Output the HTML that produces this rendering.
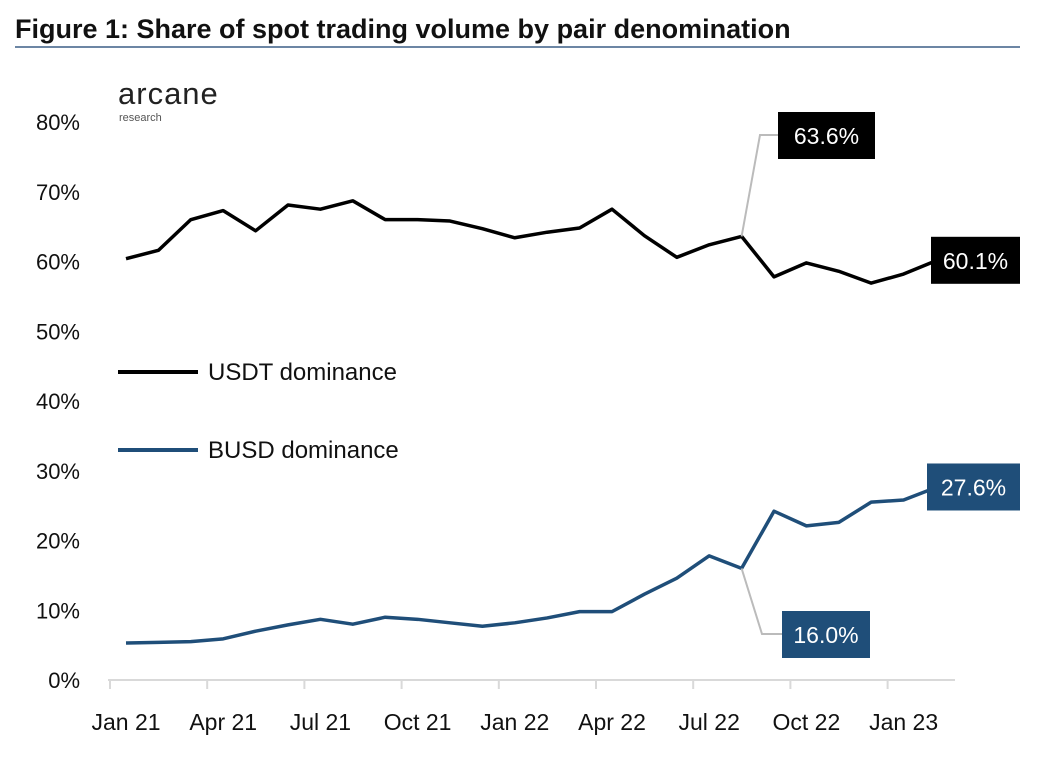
<!DOCTYPE html>
<html><head><meta charset="utf-8"><style>
body{margin:0;background:#fff;width:1055px;height:758px;overflow:hidden;font-family:"Liberation Sans",sans-serif}
svg text{font-family:"Liberation Sans",sans-serif}
</style></head><body>
<svg id="c" width="1055" height="758">
<text x="15" y="38" font-size="27" font-weight="bold" fill="#111">Figure 1: Share of spot trading volume by pair denomination</text>
<line x1="15" y1="47" x2="1020" y2="47" stroke="#3b5f86" stroke-width="1.5"/>
<text x="118" y="104" font-size="31" fill="#222" letter-spacing="1">arcane</text>
<text x="119" y="121" font-size="11" fill="#555">research</text>
<g id="axes"></g><g id="series"></g><g id="ann"></g>
<line x1="118" y1="372" x2="198" y2="372" stroke="#000" stroke-width="4"/>
<text x="208" y="380" font-size="24" fill="#111">USDT dominance</text>
<line x1="118" y1="450" x2="198" y2="450" stroke="#1f4e79" stroke-width="4"/>
<text x="208" y="458" font-size="24" fill="#111">BUSD dominance</text>
</svg>
<script>
const months=26;
const usdt=[60.4,61.6,66,67.3,64.4,68.1,67.5,68.7,66,66,65.8,64.7,63.4,64.2,64.8,67.5,63.7,60.6,62.4,63.6,57.8,59.8,58.6,56.9,58.2,60.1];
const busd=[5.3,5.4,5.5,5.9,7.0,7.9,8.7,8.0,9.0,8.7,8.2,7.7,8.2,8.9,9.8,9.8,12.3,14.6,17.8,16.0,24.2,22.1,22.6,25.5,25.8,27.6];
const yTicks=[0,10,20,30,40,50,60,70,80];
const xLabels=["Jan 21","Apr 21","Jul 21","Oct 21","Jan 22","Apr 22","Jul 22","Oct 22","Jan 23"];
const ns="http://www.w3.org/2000/svg";
const x=i=>126+i*32.4, y=v=>680-v*6.975;
function el(t,a,p){const e=document.createElementNS(ns,t);for(const k in a)e.setAttribute(k,a[k]);document.getElementById(p).appendChild(e);return e;}
const ax=el('line',{x1:108,y1:680,x2:955,y2:680,stroke:'#d9d9d9','stroke-width':2},'axes');


yTicks.forEach(v=>{const t=el('text',{x:80,y:y(v)+8,'font-size':22,'text-anchor':'end',fill:'#111'},'axes');t.textContent=v+'%';

});
for(let i=0;i<months;i+=3){const tk=el('line',{x1:x(i)-16,y1:680,x2:x(i)-16,y2:689,stroke:'#d9d9d9','stroke-width':2},'axes');

}
xLabels.forEach((l,k)=>{const t=el('text',{x:x(k*3),y:730,'font-size':23,'text-anchor':'middle',fill:'#111'},'axes');t.textContent=l;

});
function line(d,c,n){const p=el('polyline',{points:d.map((v,i)=>x(i)+','+y(v)).join(' '),fill:'none',stroke:c,'stroke-width':3.5,'stroke-linejoin':'round'},'series');

}
line(usdt,'#000','usdt-line');line(busd,'#1f4e79','busd-line');
function box(bx,by,w,txt,c,n){const r=el('rect',{x:bx,y:by,width:w,height:47,fill:c},'ann');


const t=el('text',{x:bx+w/2,y:by+32,'font-size':23,'text-anchor':'middle',fill:'#fff'},'ann');t.textContent=txt;

}
const i=19;
const c1=el('polyline',{points:`${x(i)},${y(usdt[i])} 760,135 778,135`,fill:'none',stroke:'#bbb','stroke-width':2},'ann');


const c2=el('polyline',{points:`${x(i)},${y(busd[i])} 762,634 782,634`,fill:'none',stroke:'#bbb','stroke-width':2},'ann');


box(778,112,97,usdt[i].toFixed(1)+'%','#000','usdt-peak-label');
box(931,y(usdt[25])-24,89,usdt[25].toFixed(1)+'%','#000','usdt-last-label');
box(927,y(busd[25])-24,93,busd[25].toFixed(1)+'%','#1f4e79','busd-last-label');
box(782,611,88,busd[i].toFixed(1)+'%','#1f4e79','busd-aug-label');
</script>
</body></html>
